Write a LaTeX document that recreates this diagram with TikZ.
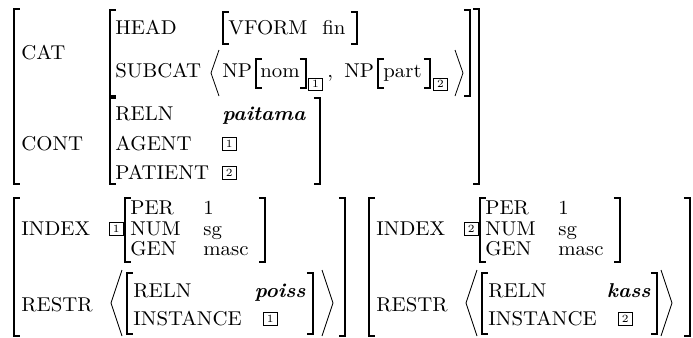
\documentclass[tikz,border=0pt]{standalone}
\usepackage{graphicx}
\newcommand{\hx}[1]{\scalebox{1.04}[1]{#1}}
\newcommand{\LBk}[3]{\draw[brk] (#1+6,#2) -- (#1,#2) -- (#1,#3) -- (#1+6,#3);}
\newcommand{\RBk}[3]{\draw[brk] (#1-6,#2) -- (#1,#2) -- (#1,#3) -- (#1-6,#3);}
\newcommand{\LAn}[4]{\draw[ang] (#1+#4,#2) -- (#1,{(#2+#3)/2}) -- (#1+#4,#3);}
\newcommand{\RAn}[4]{\draw[ang] (#1-#4,#2) -- (#1,{(#2+#3)/2}) -- (#1-#4,#3);}
\tikzset{
  lab/.style={anchor=base west, inner sep=0pt, font=\fontsize{10}{12}\selectfont},
  bv/.style={anchor=base east, inner sep=0pt, font=\fontsize{10}{12}\selectfont\bfseries\itshape},
  bvw/.style={anchor=base west, inner sep=0pt, font=\fontsize{10}{12}\selectfont\bfseries\itshape},
  brk/.style={line width=0.6pt},
  ang/.style={line width=0.4pt},
  tagbox/.style={draw, line width=0.4pt, inner sep=0pt, minimum width=6.8pt, minimum height=6.8pt, anchor=west, font=\fontsize{5.5}{6}\selectfont},
  subbox/.style={draw, line width=0.4pt, inner sep=0pt, minimum width=7.2pt, minimum height=6pt, anchor=west, font=\fontsize{5.5}{6}\selectfont}
}
\begin{document}
\begin{tikzpicture}[x=0.5pt,y=-0.5pt]
\useasboundingbox (0,0) rectangle (693,338);
% ---------- top block ----------
\LBk{14}{9}{184} \RBk{479}{9}{184}
\node[lab] (cat) at (21,59) {\hx{CAT}};
\LBk{110}{10}{96} \RBk{470}{10}{96}
\node[lab] (head) at (115,34) {\hx{HEAD}};
\LBk{223}{12}{44} \RBk{357}{12}{44}
\node[lab] (vform) at (228,34) {\hx{VFORM}};
\node[lab] (fin) at (322,34) {\hx{fin}};
\node[lab] (subcat) at (115,77) {\hx{SUBCAT}};
\LAn{211}{50}{96}{8} \RAn{463}{50}{96}{8}
\node[lab] (np1) at (222,77) {\hx{NP}};
\LBk{256}{59}{88} \RBk{306}{59}{88}
\node[lab] (nom) at (260,77) {\hx{nom}};
\node[subbox] (t1a) at (308,84) {1};
\node[lab] (comma) at (327,77) {\hx{,}};
\node[lab] (np2) at (344,77) {\hx{NP}};
\LBk{378}{59}{88} \RBk{430}{59}{88}
\node[lab] (part) at (383,77) {\hx{part}};
\node[subbox] (t2a) at (433,84) {2};
\node[lab] (cont) at (21,150) {\hx{CONT}};
\LBk{110}{98}{184} \RBk{320}{98}{184}
\node[lab] (reln1) at (115,120) {\hx{RELN}};
\node[bvw] (paitama) at (222,120) {\hx{paitama}};
\node[lab] (agent) at (115,150) {\hx{AGENT}};
\node[tagbox] (t1b) at (222,144) {1};
\node[lab] (patient) at (115,179) {\hx{PATIENT}};
\node[tagbox] (t2b) at (222,173) {2};
% ---------- lower left ----------
\LBk{14}{198}{336} \RBk{345}{198}{336}
\node[lab] (index1) at (21,235) {\hx{INDEX}};
\node[tagbox] (t1c) at (109,229) {1};
\LBk{125}{198}{262} \RBk{265}{198}{262}
\node[lab] (per1) at (130,214) {\hx{PER}};
\node[lab] (num1) at (130,235) {\hx{NUM}};
\node[lab] (gen1) at (130,255) {\hx{GEN}};
\node[lab] (per1v) at (203,214) {\hx{1}};
\node[lab] (num1v) at (203,235) {\hx{sg}};
\node[lab] (gen1v) at (203,255) {\hx{masc}};
\node[lab] (restr1) at (21,311) {\hx{RESTR}};
\LAn{111}{270}{336}{11} \RAn{333}{270}{336}{11}
\LBk{127}{273}{334} \RBk{313}{273}{334}
\node[lab] (reln2) at (133,297) {\hx{RELN}};
\node[bv] (poiss) at (306,297) {\hx{poiss}};
\node[lab] (inst1) at (133,325) {\hx{INSTANCE}};
\node[tagbox] (t1d) at (263,319) {1};
% ---------- lower right ----------
\LBk{369}{198}{336} \RBk{690}{198}{336}
\node[lab] (index2) at (376,235) {\hx{INDEX}};
\node[tagbox] (t2c) at (464,229) {2};
\LBk{480}{198}{262} \RBk{620}{198}{262}
\node[lab] (per2) at (485,214) {\hx{PER}};
\node[lab] (num2) at (485,235) {\hx{NUM}};
\node[lab] (gen2) at (485,255) {\hx{GEN}};
\node[lab] (per2v) at (558,214) {\hx{1}};
\node[lab] (num2v) at (558,235) {\hx{sg}};
\node[lab] (gen2v) at (558,255) {\hx{masc}};
\node[lab] (restr2) at (376,311) {\hx{RESTR}};
\LAn{466}{270}{336}{11} \RAn{672}{270}{336}{11}
\LBk{482}{273}{334} \RBk{657}{273}{334}
\node[lab] (reln3) at (488,297) {\hx{RELN}};
\node[bv] (kass) at (651,297) {\hx{kass}};
\node[lab] (inst2) at (488,325) {\hx{INSTANCE}};
\node[tagbox] (t2d) at (618,319) {2};
\end{tikzpicture}
\end{document}
